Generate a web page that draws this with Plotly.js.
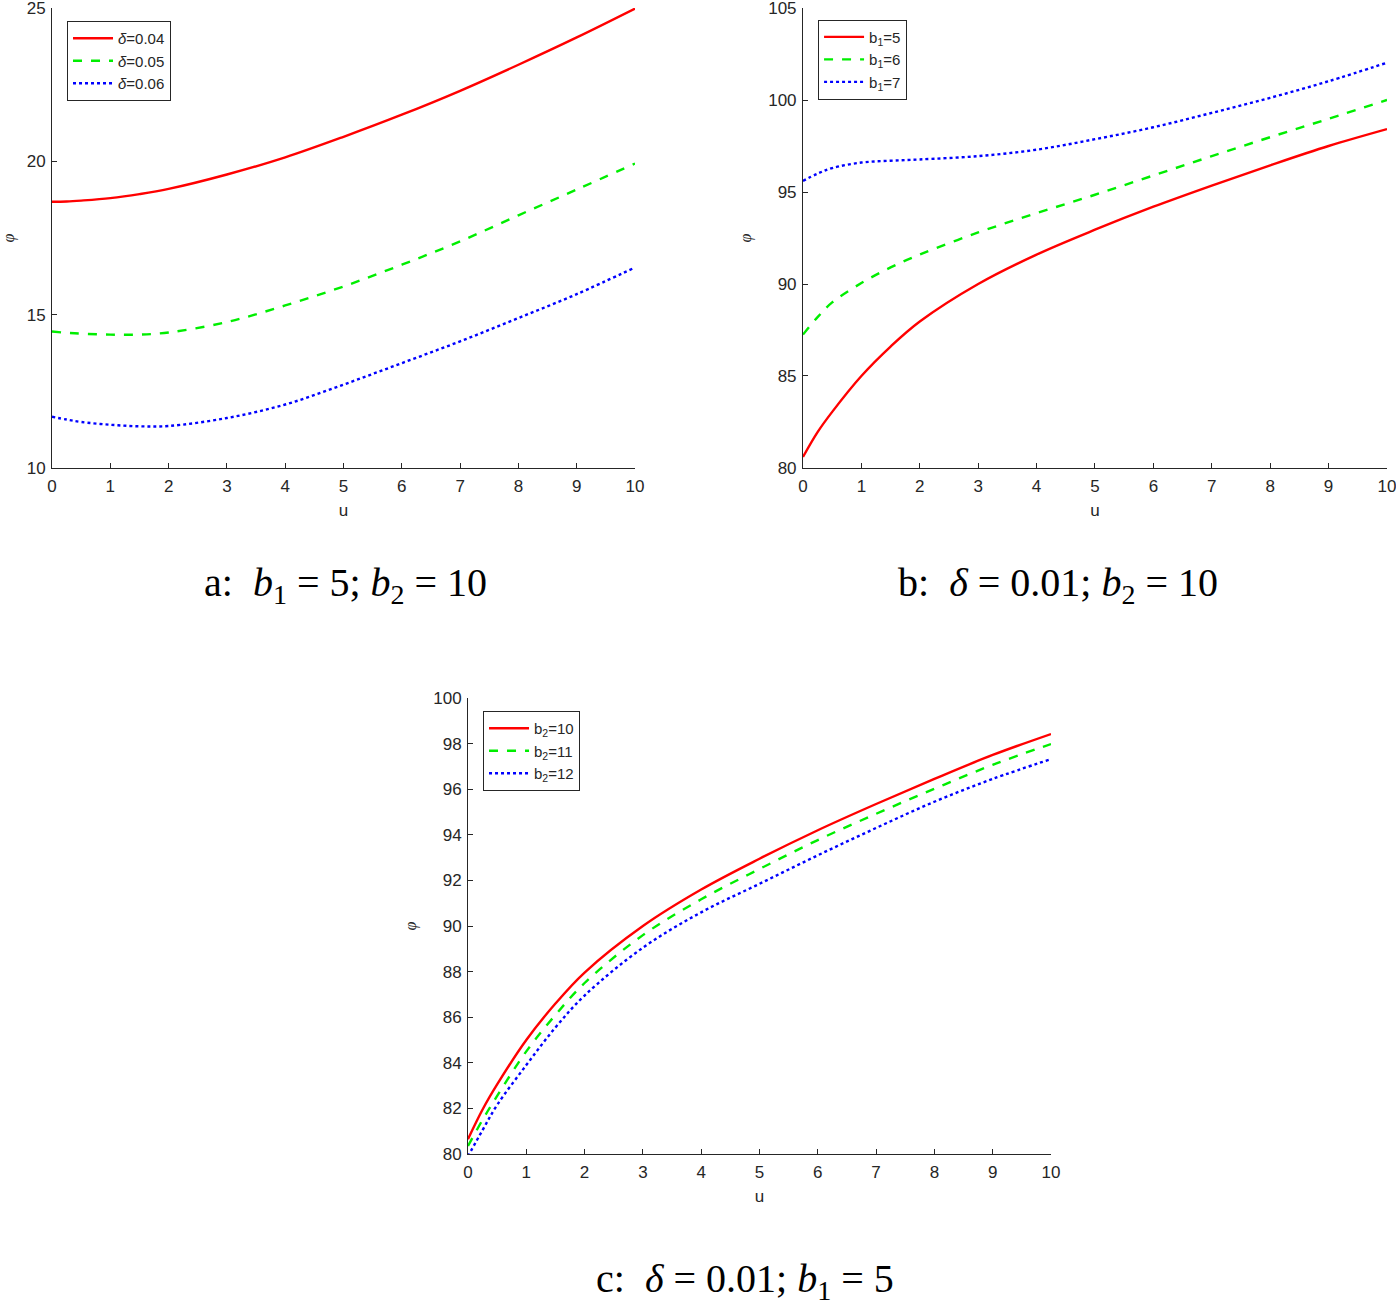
<!DOCTYPE html>
<html>
<head>
<meta charset="utf-8">
<script src="https://cdn.plot.ly/plotly-3.0.1.min.js"></script>
<style>html,body{margin:0;padding:0;background:#fff;}</style>
</head>
<body>
<div id="chart" style="width:1396px;height:1310px;"></div>
<script>
// shared u grid
const u = [0, 0.25, 0.5, 1, 1.5, 2, 3, 4, 5, 6, 7, 8, 9, 10];

// Panel a: b1 = 5, b2 = 10
const aLabels = ["<i>δ</i>=0.04", "<i>δ</i>=0.05", "<i>δ</i>=0.06"];
const aDelta04 = [18.68, 18.69, 18.72, 18.80, 18.93, 19.10, 19.57, 20.13, 20.80, 21.52, 22.30, 23.15, 24.04, 24.98];
const aDelta05 = [14.45, 14.41, 14.38, 14.35, 14.35, 14.42, 14.76, 15.30, 15.92, 16.63, 17.39, 18.24, 19.08, 19.93];
const aDelta06 = [11.67, 11.58, 11.50, 11.41, 11.36, 11.37, 11.63, 12.07, 12.72, 13.42, 14.13, 14.89, 15.67, 16.54];

// Panel b: delta = 0.01, b2 = 10
const bLabels = ["b<sub>1</sub>=5", "b<sub>1</sub>=6", "b<sub>1</sub>=7"];
const bB1_5 = [80.60, 81.95, 83.05, 85.00, 86.60, 87.96, 90.00, 91.60, 92.95, 94.20, 95.35, 96.45, 97.50, 98.42];
const bB1_6 = [87.25, 88.20, 89.00, 90.05, 90.90, 91.60, 92.80, 93.85, 94.85, 95.90, 96.95, 97.98, 98.98, 100.00];
const bB1_7 = [95.60, 96.00, 96.30, 96.60, 96.70, 96.77, 96.95, 97.30, 97.87, 98.52, 99.30, 100.12, 101.02, 102.03];

// Panel c: delta = 0.01, b1 = 5
const cLabels = ["b<sub>2</sub>=10", "b<sub>2</sub>=11", "b<sub>2</sub>=12"];
const cB2_10 = [80.65, 81.95, 83.05, 85.00, 86.60, 87.96, 90.00, 91.60, 92.95, 94.20, 95.35, 96.45, 97.50, 98.42];
const cB2_11 = [80.35, 81.50, 82.55, 84.50, 86.10, 87.50, 89.60, 91.17, 92.50, 93.77, 94.92, 96.02, 97.07, 97.98];
const cB2_12 = [79.90, 81.05, 82.15, 83.90, 85.55, 86.95, 89.05, 90.60, 91.85, 93.10, 94.30, 95.45, 96.45, 97.32];

const xTicks = [0,1,2,3,4,5,6,7,8,9,10];
const aTicks = [10, 15, 20, 25];
const bTicks = [80, 85, 90, 95, 100, 105];
const cTicks = [80, 82, 84, 86, 88, 90, 92, 94, 96, 98, 100];

const captions = [
  "a:  <i>b</i><sub>1</sub> = 5; <i>b</i><sub>2</sub> = 10",
  "b:  <i>δ</i> = 0.01; <i>b</i><sub>2</sub> = 10",
  "c:  <i>δ</i> = 0.01; <i>b</i><sub>1</sub> = 5"
];

const styles = [
  {color: "#ff0000", dash: "solid"},
  {color: "#00ee00", dash: "dash"},
  {color: "#0000ff", dash: "dot"}
];

function mk(ys, names, xa, ya, leg) {
  return ys.map((y, i) => ({
    x: u, y: y, type: "scatter", mode: "lines", name: names[i],
    xaxis: xa, yaxis: ya, legend: leg, cliponaxis: true,
    line: {color: styles[i].color, dash: styles[i].dash, width: 2.4, shape: "spline", smoothing: 1}
  }));
}

const data = [].concat(
  mk([aDelta04, aDelta05, aDelta06], aLabels, "x", "y", "legend"),
  mk([bB1_5, bB1_6, bB1_7], bLabels, "x2", "y2", "legend2"),
  mk([cB2_10, cB2_11, cB2_12], cLabels, "x3", "y3", "legend3")
);

const tickFont = {family: "Liberation Sans, Arial, sans-serif", size: 17, color: "#262626"};
function xax(dom, anchor) {
  return {domain: dom, anchor: anchor, range: [0, 10], tickvals: xTicks, ticks: "inside",
    ticklen: 5, tickcolor: "#262626", showline: true, linecolor: "#262626", linewidth: 1,
    showgrid: false, zeroline: false, tickfont: tickFont, ticklabeloverflow: "allow",
    ticklabelstandoff: 3,
    title: {text: "u", font: {family: "Liberation Sans, Arial, sans-serif", size: 17, color: "#262626"}, standoff: 8}};
}
function yax(dom, anchor, rng, ticks) {
  return {domain: dom, anchor: anchor, range: rng, tickvals: ticks, ticks: "inside",
    ticklen: 5, tickcolor: "#262626", showline: true, linecolor: "#262626", linewidth: 1,
    showgrid: false, zeroline: false, tickfont: tickFont, ticklabeloverflow: "allow",
    ticklabelstandoff: 2,
    title: {text: "<i>φ</i>", font: {family: "Liberation Serif, Times New Roman, serif", size: 16, color: "#262626"}, standoff: 12}};
}
const legFont = {family: "Liberation Sans, Arial, sans-serif", size: 15, color: "#262626"};
function leg(x, y) {
  return {x: x, y: y, xanchor: "left", yanchor: "top", bgcolor: "#ffffff",
    bordercolor: "#262626", borderwidth: 1, font: legFont, tracegroupgap: 0, itemwidth: 40};
}

const capFont = {family: "Liberation Serif, Times New Roman, serif", size: 40, color: "#000"};

const layout = {
  width: 1396, height: 1310,
  margin: {l: 0, r: 0, t: 0, b: 0},
  paper_bgcolor: "#ffffff", plot_bgcolor: "#ffffff",
  showlegend: true,
  xaxis: xax([0.03725, 0.4549], "y"),
  yaxis: yax([0.64275, 0.99389], "x", [10, 25], aTicks),
  xaxis2: xax([0.5752, 0.99355], "y2"),
  yaxis2: yax([0.64275, 0.99389], "x2", [80, 105], bTicks),
  xaxis3: xax([0.33524, 0.75287], "y3"),
  yaxis3: yax([0.11908, 0.46718], "x3", [80, 100], cTicks),
  legend: leg(0.048, 0.984),
  legend2: leg(0.586, 0.985),
  legend3: leg(0.346, 0.4573),
  annotations: [
    {text: captions[0], xref: "paper", yref: "paper", x: 345/1396, y: 1 - 585/1310, xanchor: "center", yanchor: "middle", showarrow: false, font: capFont},
    {text: captions[1], xref: "paper", yref: "paper", x: 1058/1396, y: 1 - 585/1310, xanchor: "center", yanchor: "middle", showarrow: false, font: capFont},
    {text: captions[2], xref: "paper", yref: "paper", x: 745/1396, y: 1 - 1281/1310, xanchor: "center", yanchor: "middle", showarrow: false, font: capFont}
  ]
};

Plotly.newPlot("chart", data, layout, {displayModeBar: false, staticPlot: true});
</script>
</body>
</html>
